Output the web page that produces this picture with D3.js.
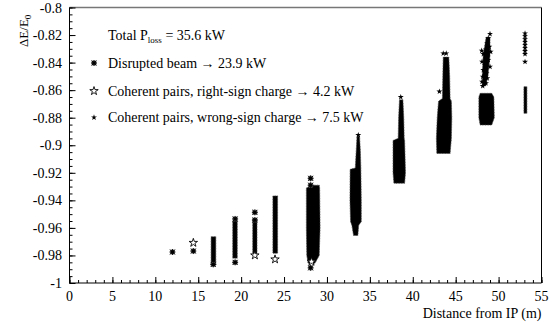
<!DOCTYPE html>
<html><head><meta charset="utf-8">
<script src="https://cdn.jsdelivr.net/npm/d3@7"></script>
<style>body{margin:0;background:#fff}svg{display:block}text{font-family:"Liberation Serif","Times New Roman",serif;fill:#000}</style>
</head><body>
<svg id="c" width="554" height="322"></svg>
<script>
// ---- data ----
const xTicks = [0,5,10,15,20,25,30,35,40,45,50,55];
const yTicks = [-0.8,-0.82,-0.84,-0.86,-0.88,-0.9,-0.92,-0.94,-0.96,-0.98,-1];
const legendTitle = "Total P";
const legendSub = "loss";
const legendTotal = " = 35.6 kW";
const seriesNames = ["Disrupted beam \u2192 23.9 kW",
  "Coherent pairs, right-sign charge \u2192 4.2 kW",
  "Coherent pairs, wrong-sign charge \u2192 7.5 kW"];
// dense point clouds, as profiles: rows of [ΔE/E0, distance min, distance max]
const cloud17 = [[-0.9664,16.5,17.05],[-0.9869,16.5,17.05]];
const cloud19 = [[-0.955,19.02,19.55],[-0.982,19.02,19.55]];
const cloud22 = [[-0.9538,21.35,21.85],[-0.9785,21.35,21.85]];
const cloud24 = [[-0.9368,23.7,24.25],[-0.9784,23.7,24.25]];
const cloud28 = [[-0.929,28.3,29.1],[-0.931,27.6,29.15],[-0.96,27.6,29.2],[-0.98,27.65,29.1],[-0.9857,27.8,28.6]];
const cloud33 = [[-0.8935,33.5,33.8],[-0.905,33.4,33.9],[-0.9165,33.3,33.95],[-0.9175,32.7,33.95],[-0.94,32.68,34.0],[-0.9555,32.75,34.0],[-0.958,32.9,33.7],[-0.9655,33.1,33.6]];
const cloud38 = [[-0.867,38.45,38.85],[-0.88,38.35,38.95],[-0.895,38.3,39.0],[-0.8965,37.7,39.05],[-0.92,37.7,39.15],[-0.9276,37.8,39.05]];
const cloud43 = [[-0.836,43.55,44.2],[-0.85,43.5,44.3],[-0.866,43.45,44.35],[-0.868,43.0,44.5],[-0.88,42.85,44.55],[-0.895,42.75,44.5],[-0.906,42.8,44.35]];
const cloud48a = [[-0.8215,48.55,49.0],[-0.835,48.2,49.0],[-0.85,48.1,48.75],[-0.857,48.1,48.5]];
const cloud48b = [[-0.8623,47.85,49.2],[-0.865,47.7,49.45],[-0.88,47.7,49.5],[-0.8853,47.85,49.2]];
const cloud53 = [[-0.8575,52.95,53.3],[-0.8768,52.95,53.3]];
const clouds = [cloud17,cloud19,cloud22,cloud24,cloud28,cloud33,cloud38,cloud43,cloud48a,cloud48b,cloud53];
// individual points
const disruptedX = [12.0,14.43,16.75,19.3,19.3,21.6,21.6,28.1,28.1,28.1];
const disruptedY = [-0.9775,-0.9768,-0.9865,-0.9535,-0.985,-0.9487,-0.9543,-0.924,-0.929,-0.989];
const rightX = [14.43,21.6,23.95,28.2];
const rightY = [-0.9708,-0.9799,-0.9828,-0.9845];
const wrongX = [33.65,38.6,43.1,43.55,43.9,
  49.0,48.8,48.68,48.92,48.53,49.08,48.03,48.22,48.68,48.07,48.8,48.42,49.0,48.22,48.6,48.15,48.68,48.07,48.53,48.15,
  53.08,53.08,53.08,53.08,53.08,53.08,53.08,53.08,53.08];
const wrongY = [-0.8926,-0.865,-0.861,-0.8333,-0.8333,
  -0.8192,-0.8224,-0.826,-0.8285,-0.8304,-0.8321,-0.8314,-0.8338,-0.8357,-0.8393,-0.8381,-0.8417,-0.843,-0.8454,-0.8478,-0.8502,-0.8514,-0.8539,-0.855,-0.857,
  -0.8188,-0.8208,-0.823,-0.825,-0.8272,-0.8294,-0.8316,-0.8338,-0.8394];

// ---- layout ----
const svg = d3.select("#c");
const L = 69.5, R = 541.5, T = 7.5, B = 283;
const x = d3.scaleLinear().domain([0,55]).range([L,R]);
const y = d3.scaleLinear().domain([-1,-0.8]).range([B,T]);

// frame
svg.append("line").attr("x1",L).attr("x2",R).attr("y1",T).attr("y2",T).attr("stroke","#777").attr("stroke-width",1.6);
svg.append("line").attr("x1",R).attr("x2",R).attr("y1",T).attr("y2",B).attr("stroke","#000");

// x axis (ticks inward)
const xMinor = d3.range(0,56,1);
const gx = svg.append("g").attr("transform",`translate(0,${B})`);
gx.call(d3.axisTop(x).tickValues(xMinor).tickSize(3).tickFormat(""));
gx.call(g=>g.select(".domain").remove());
const gx2 = svg.append("g").attr("transform",`translate(0,${B})`).call(d3.axisTop(x).tickValues(xTicks).tickSize(6).tickFormat(""));
gx2.select(".domain").attr("d",`M${L},0H${R}`).attr("stroke","#000");
svg.append("g").selectAll("text").data(xTicks).join("text")
  .attr("x",d=>x(d)).attr("y",B+18).attr("text-anchor","middle").attr("font-size",14).text(d=>d);

// y axis
const yMinor = d3.range(0,41).map(i=>-1+i*0.005);
const gy = svg.append("g").attr("transform",`translate(${L},0)`);
gy.call(d3.axisRight(y).tickValues(yMinor).tickSize(3).tickFormat(""));
gy.call(g=>g.select(".domain").remove());
const gy2 = svg.append("g").attr("transform",`translate(${L},0)`).call(d3.axisRight(y).tickValues(yTicks).tickSize(6).tickFormat(""));
gy2.select(".domain").attr("d",`M0,${T}V${B}`).attr("stroke","#000");
svg.append("g").selectAll("text").data(yTicks).join("text")
  .attr("x",L-7.5).attr("y",d=>y(d)+5).attr("text-anchor","end").attr("font-size",14).text(d=>String(d));

// axis titles
svg.append("text").attr("x",R).attr("y",318).attr("text-anchor","end").attr("font-size",14).text("Distance from IP (m)");
const yt = svg.append("text").attr("transform","translate(28,47) rotate(-90)").attr("font-size",13);
yt.append("tspan").text("\u0394E/E");
yt.append("tspan").attr("font-size",9).attr("dy",3).text("0");

// clouds
const area = d3.area().y(d=>y(d[0])).x0(d=>x(d[1])).x1(d=>x(d[2]));
svg.append("g").selectAll("path").data(clouds).join("path")
  .attr("d",area).attr("fill","#000").attr("stroke","#444").attr("stroke-width",0.8).attr("stroke-dasharray","1,0.6");

// markers
const astPath = "M-2.5,-2.5L2.5,2.5M-2.5,2.5L2.5,-2.5M0,-3V3M-3,0H3";
const sq = "M-2,-2H2V2H-2Z";
function drawDisrupted(g){ g.append("path").attr("d",sq).attr("fill","#000").attr("stroke","#666").attr("stroke-width",0.8);
  g.append("path").attr("d",astPath).attr("stroke","#000").attr("stroke-width",0.9); }
const starPath = d3.symbol().type(d3.symbolStar).size(22)();
const smallStar = d3.symbol().type(d3.symbolStar).size(11)();
function drawRight(g){ g.append("path").attr("d",starPath).attr("fill","#fff").attr("stroke","#000").attr("stroke-width",0.9); }
function drawWrong(g){ g.append("path").attr("d",smallStar).attr("fill","#000"); }

d3.range(disruptedX.length).forEach(i=>{drawDisrupted(svg.append("g").attr("transform",`translate(${x(disruptedX[i])},${y(disruptedY[i])})`));});
d3.range(rightX.length).forEach(i=>{drawRight(svg.append("g").attr("transform",`translate(${x(rightX[i])},${y(rightY[i])})`));});
d3.range(wrongX.length).forEach(i=>{drawWrong(svg.append("g").attr("transform",`translate(${x(wrongX[i])},${y(wrongY[i])})`));});

// legend
const lt = svg.append("text").attr("x",108).attr("y",40).attr("font-size",14);
lt.append("tspan").text(legendTitle);
lt.append("tspan").attr("font-size",9).attr("dy",3).text(legendSub);
lt.append("tspan").attr("dy",-3).text(legendTotal);
const rows = [67.5,95.5,122];
const drawers = [drawDisrupted, drawRight, drawWrong];
seriesNames.forEach((s,i)=>{
  drawers[i](svg.append("g").attr("transform",`translate(94,${rows[i]-4.5})`));
  svg.append("text").attr("x",108).attr("y",rows[i]).attr("font-size",14).text(s);
});
</script>
</body></html>
